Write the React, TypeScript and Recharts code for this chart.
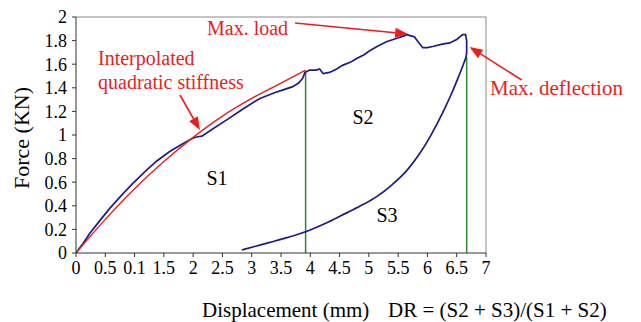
import React from 'react';
import { LineChart, Line, XAxis, YAxis, ReferenceLine } from 'recharts';

// ---- data ----
const loadDisp = [0, 0.12, 0.24, 0.4, 0.58, 0.78, 0.97, 1.2, 1.38, 1.6, 1.8, 2.0, 2.08, 2.15, 2.3, 2.58, 2.85, 3.14, 3.4, 3.55, 3.7, 3.8, 3.87, 3.91, 3.99, 4.1, 4.16, 4.22, 4.33, 4.45, 4.55, 4.7, 4.8, 4.92, 5.0, 5.14, 5.3, 5.48, 5.6, 5.65, 5.72, 5.78, 5.84, 5.92, 6.0, 6.09, 6.25, 6.38, 6.5, 6.6, 6.65, 6.67, 6.67, 6.66];
const loadForce = [0, 0.08, 0.17, 0.27, 0.38, 0.49, 0.59, 0.7, 0.78, 0.86, 0.92, 0.975, 0.985, 0.99, 1.04, 1.13, 1.22, 1.31, 1.36, 1.385, 1.41, 1.44, 1.48, 1.53, 1.55, 1.55, 1.56, 1.52, 1.53, 1.56, 1.59, 1.62, 1.65, 1.68, 1.71, 1.75, 1.79, 1.82, 1.84, 1.85, 1.84, 1.83, 1.79, 1.74, 1.74, 1.75, 1.77, 1.78, 1.81, 1.85, 1.85, 1.8, 1.7, 1.66];

const unloadDisp = [2.83, 3.05, 3.31, 3.6, 3.92, 4.3, 4.62, 4.9, 5.14, 5.4, 5.65, 5.85, 6.04, 6.17, 6.3, 6.42, 6.52, 6.6, 6.66];
const unloadForce = [0.025, 0.055, 0.09, 0.13, 0.18, 0.26, 0.34, 0.41, 0.48, 0.58, 0.7, 0.83, 0.98, 1.1, 1.23, 1.36, 1.48, 1.58, 1.66];

const fitDisp = [0, 0.5, 1, 1.5, 2, 2.5, 3, 3.5, 3.92];
const fitForce = [0, 0.285, 0.545, 0.775, 0.98, 1.16, 1.31, 1.44, 1.55];

const greenLeftDisp = [3.92, 3.92];
const greenLeftForce = [0, 1.53];
const greenRightDisp = [6.67, 6.67];
const greenRightForce = [0, 1.66];

const xTicks = [0, 0.5, 1, 1.5, 2, 2.5, 3, 3.5, 4, 4.5, 5, 5.5, 6, 6.5, 7];
const xTickLabels = ['0', '0.5', '0.1', '1.5', '2', '2.5', '3', '3.5', '4', '4.5', '5', '5.5', '6', '6.5', '7'];
const yTicks = [0, 0.2, 0.4, 0.6, 0.8, 1, 1.2, 1.4, 1.6, 1.8, 2];
const yTickLabels = ['0', '0.2', '0.4', '0.6', '0.8', '1', '1.2', '1.4', '1.6', '1.8', '2'];

// annotation arrows in data coords: [fromX, fromY, toX, toY]
const arrowMaxLoad = [3.74, 1.949, 5.67, 1.856];
const arrowMaxDefl = [7.61, 1.466, 6.72, 1.746];
const arrowInterp = [1.775, 1.339, 2.116, 1.042];

const zip = (xs: number[], ys: number[]) => xs.map((x, i) => ({ x, y: ys[i] }));
const loadData = zip(loadDisp, loadForce);
const unloadData = zip(unloadDisp, unloadForce);
const fitData = zip(fitDisp, fitForce);
const gLeft = zip(greenLeftDisp, greenLeftForce);
const gRight = zip(greenRightDisp, greenRightForce);

const RED = '#ee1c1c';
const BLUE = '#1c1c86';
const GREEN = '#2a8a2a';
const FONT = 'Liberation Serif';

const ArrowShape = (p: any) => {
  const { x1, y1, x2, y2 } = p;
  if ([x1, y1, x2, y2].some((v) => v == null || isNaN(v))) return null;
  const dx = x2 - x1, dy = y2 - y1;
  const len = Math.sqrt(dx * dx + dy * dy);
  const ux = dx / len, uy = dy / len;
  const L = 13, W = 5;
  const bx = x2 - ux * L, by = y2 - uy * L;
  const pts = `${x2},${y2} ${bx - uy * W},${by + ux * W} ${bx + uy * W},${by - ux * W}`;
  return (
    <g>
      <line x1={x1} y1={y1} x2={bx} y2={by} stroke={RED} strokeWidth={1.6} />
      <polygon points={pts} fill={RED} />
    </g>
  );
};

const seg = (a: number[]) => [{ x: a[0], y: a[1] }, { x: a[2], y: a[3] }];

const tStyle = { fontFamily: FONT };

export default function App() {
  return (
    <div style={{ position: 'absolute', left: 0, top: 0, width: 641, height: 322, background: '#fff' }}>
      <LineChart width={641} height={322} margin={{ top: 17, right: 155, bottom: 39, left: 0 }}>
        <XAxis
          type="number"
          dataKey="x"
          domain={[0, 7]}
          ticks={xTicks}
          interval={0}
          allowDataOverflow
          height={30}
          stroke="#333"
          tickSize={4}
          tickMargin={4}
          tick={{ fill: '#000', fontSize: 18, fontFamily: FONT, style: tStyle }}
          tickFormatter={(v: number, i: number) => xTickLabels[i] ?? String(v)}
        />
        <YAxis
          type="number"
          dataKey="y"
          domain={[0, 2]}
          ticks={yTicks}
          interval={0}
          allowDataOverflow
          width={76}
          stroke="#333"
          tickSize={4}
          tickMargin={5}
          tick={{ fill: '#000', fontSize: 18, fontFamily: FONT, style: tStyle }}
          tickFormatter={(v: number, i: number) => yTickLabels[i] ?? String(v)}
        />
        <ReferenceLine y={2} stroke="#8a8a8a" strokeWidth={1} />
        <ReferenceLine x={7} stroke="#8a8a8a" strokeWidth={1} />
        <Line data={gLeft} dataKey="y" stroke={GREEN} strokeWidth={1.5} dot={false} isAnimationActive={false} />
        <Line data={gRight} dataKey="y" stroke={GREEN} strokeWidth={1.5} dot={false} isAnimationActive={false} />
        <Line data={unloadData} dataKey="y" stroke={BLUE} strokeWidth={1.7} dot={false} isAnimationActive={false} type="monotone" />
        <Line data={loadData} dataKey="y" stroke={BLUE} strokeWidth={1.7} dot={false} isAnimationActive={false} />
        <Line data={fitData} dataKey="y" stroke={RED} strokeWidth={1.4} dot={false} isAnimationActive={false} type="monotone" />
        <ReferenceLine segment={seg(arrowMaxLoad)} ifOverflow="visible" shape={ArrowShape} />
        <ReferenceLine segment={seg(arrowMaxDefl)} ifOverflow="visible" shape={ArrowShape} />
        <ReferenceLine segment={seg(arrowInterp)} ifOverflow="visible" shape={ArrowShape} />
      </LineChart>
      <svg width={641} height={322} style={{ position: 'absolute', left: 0, top: 0, pointerEvents: 'none', fontFamily: FONT }}>
        <text x={21} y={138} transform="rotate(-90 21 138)" textAnchor="middle" dominantBaseline="central" fontSize={22} fill="#000">Force (KN)</text>
        <text x={202} y={317} fontSize={21} fill="#000">Displacement (mm)</text>
        <text x={388} y={317} fontSize={21} fill="#000">DR = (S2 + S3)/(S1 + S2)</text>
        <text x={207} y={35} fontSize={20} fill={RED}>Max. load</text>
        <text x={98} y={65} fontSize={20} fill={RED}>Interpolated</text>
        <text x={98} y={89} fontSize={20} fill={RED}>quadratic stiffness</text>
        <text x={490} y={95} fontSize={21} fill={RED}>Max. deflection</text>
        <text x={217} y={178} fontSize={20} fill="#000" textAnchor="middle" dominantBaseline="central">S1</text>
        <text x={363} y={117} fontSize={20} fill="#000" textAnchor="middle" dominantBaseline="central">S2</text>
        <text x={387} y={215} fontSize={20} fill="#000" textAnchor="middle" dominantBaseline="central">S3</text>
      </svg>
    </div>
  );
}
